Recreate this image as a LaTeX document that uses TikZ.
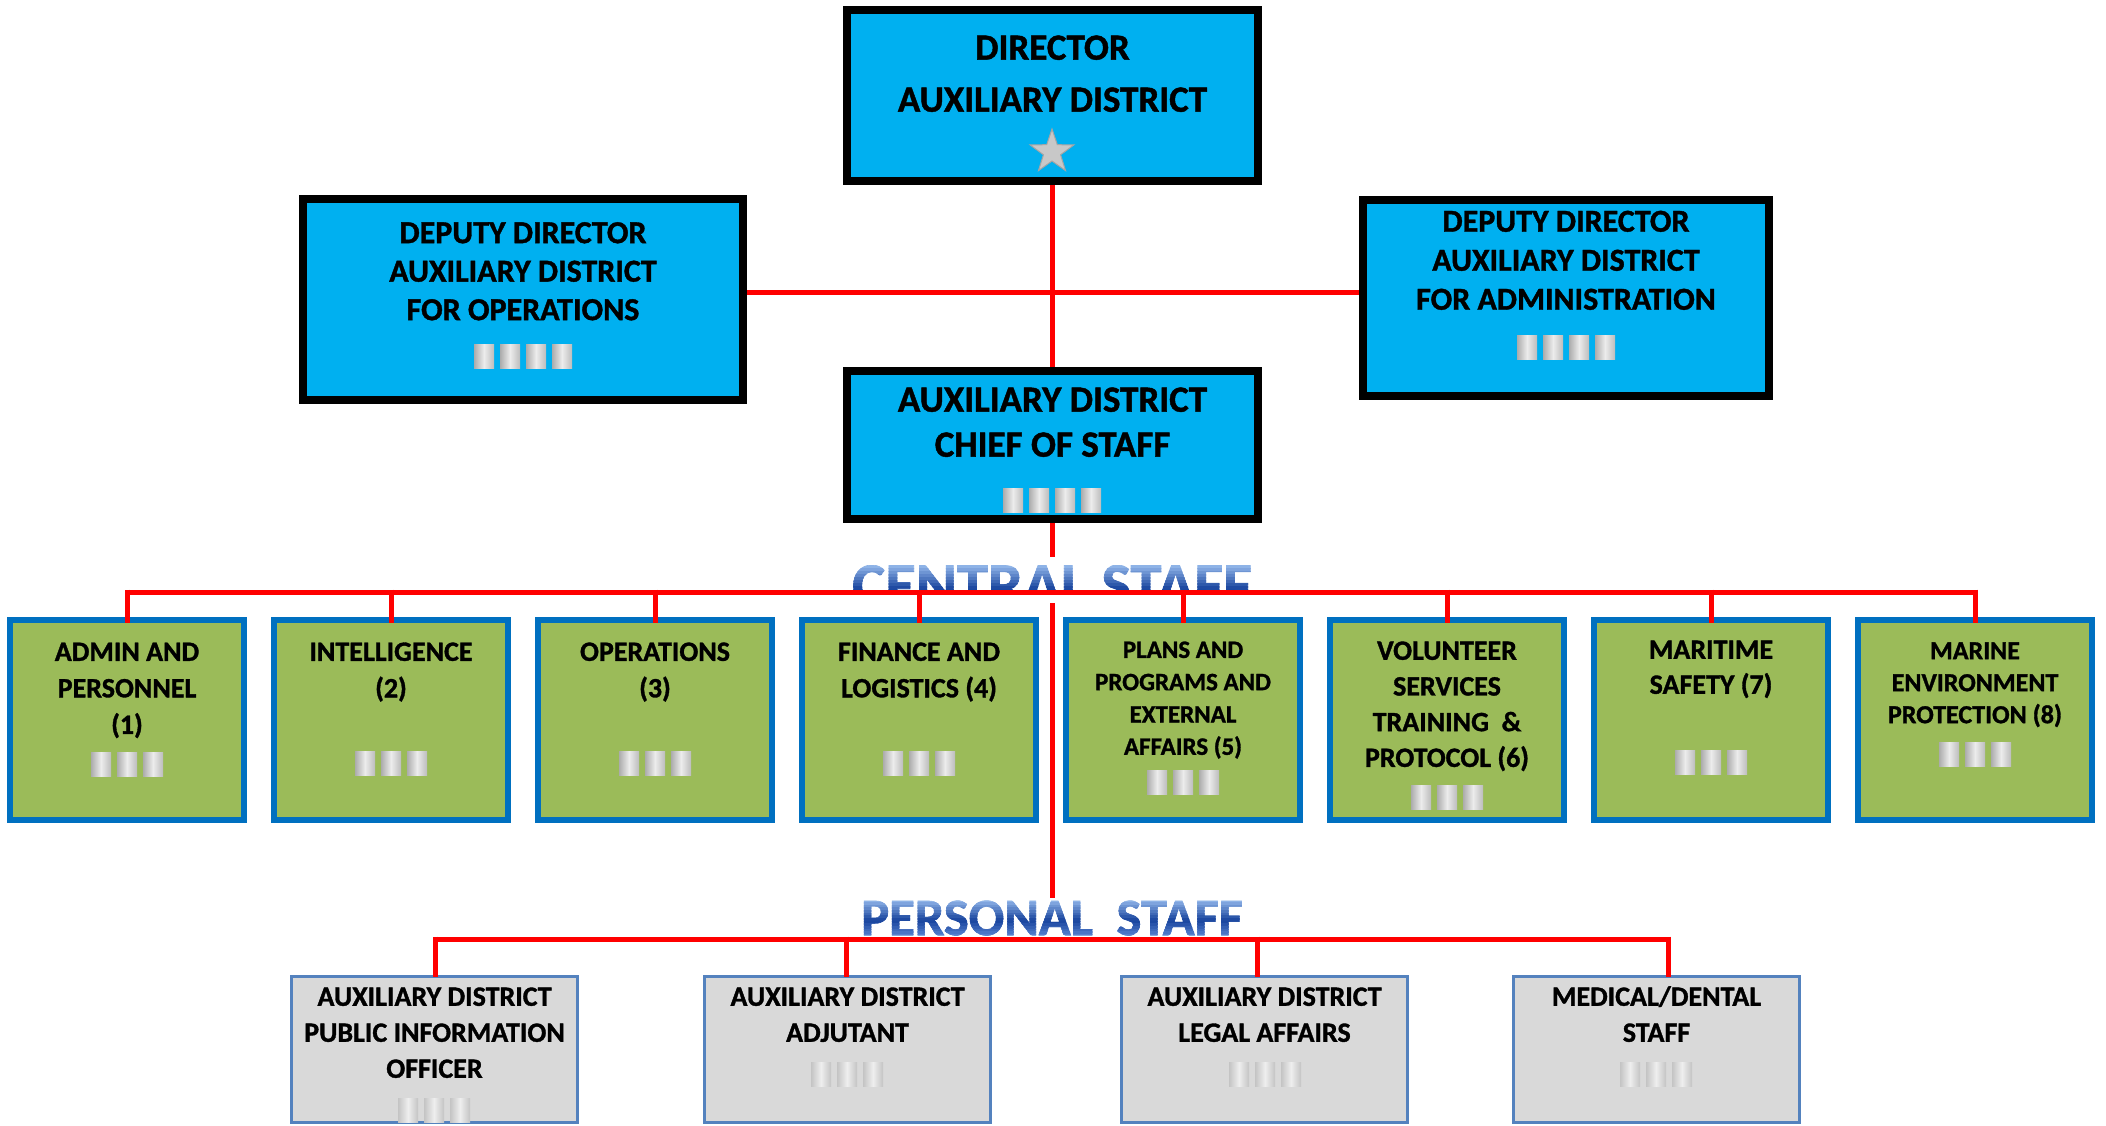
\documentclass[tikz,border=0pt]{standalone}
\usepackage{fontspec}
\setmainfont{Carlito}[BoldFeatures={FakeBold=1.2}]
\usetikzlibrary{shapes.geometric,backgrounds}

\definecolor{cmdcyan}{RGB}{0,176,240}
\definecolor{staffgreen}{RGB}{155,187,89}
\definecolor{staffedge}{RGB}{0,112,192}
\definecolor{persgray}{RGB}{217,217,217}
\definecolor{persedge}{RGB}{84,130,190}
\definecolor{linkred}{RGB}{255,0,0}
\definecolor{starfill}{RGB}{200,200,200}
\definecolor{staredge}{RGB}{165,165,165}
\definecolor{barside}{RGB}{172,172,172}
\definecolor{barside2}{RGB}{188,188,188}
\definecolor{barmid}{RGB}{236,236,236}
\definecolor{fbarside}{RGB}{196,196,196}
\definecolor{fbarmid}{RGB}{238,238,238}
\definecolor{labeltop}{RGB}{150,186,236}
\definecolor{labelmid}{RGB}{22,66,156}
\definecolor{labelbot}{RGB}{92,134,210}

% bold Carlito at a given size / line pitch
\newcommand{\boxfont}[2]{\fontsize{#1}{#2}\selectfont\bfseries}

% row of rank bars: count, centre x, centre y, shading style
\newcommand{\rankbars}[4]{%
  \foreach \barno in {1,...,#1}{%
    \shade[#4] ({#2+(\barno-(#1+1)/2)*26-10},{#3-12}) rectangle ++(20,24);
  }}

% gradient lettering built from horizontal colour bands:
% name, x, baseline y, size, glyph top, glyph bottom, text
\newcommand{\wordart}[7]{%
  \foreach \i in {0,...,13}{%
    \pgfmathsetmacro{\ya}{#5+\i*(#6-#5)/14}%
    \pgfmathsetmacro{\yb}{#5+(\i+1)*(#6-#5)/14+0.8}%
    \pgfmathtruncatemacro{\isupper}{\i<8}%
    \ifnum\isupper=1
      \pgfmathtruncatemacro{\pct}{100*(\i+0.5)/8}%
      \colorlet{bandcol}{labelmid!\pct!labeltop}%
    \else
      \pgfmathtruncatemacro{\pct}{100*(1-(\i-7.5)/6)}%
      \colorlet{bandcol}{labelmid!\pct!labelbot}%
    \fi
    \begin{scope}
      \clip (0,\ya) rectangle (2106,\yb);
      \node[wordart,text=bandcol,font=\boxfont{#4}{#4}] (#1-\i) at (#2,#3) {#7};
    \end{scope}
  }}

\begin{document}
\begin{tikzpicture}[x=1pt,y=-1pt,
  cmdbox/.style={draw=black,line width=8pt,fill=cmdcyan,inner sep=0pt,outer sep=0pt},
  staffbox/.style={draw=staffedge,line width=6pt,fill=staffgreen,minimum width=234pt,minimum height=200pt,inner sep=0pt,outer sep=0pt},
  persbox/.style={draw=persedge,line width=3pt,fill=persgray,minimum width=286pt,minimum height=146pt,inner sep=0pt,outer sep=0pt},
  boxtext/.style={anchor=north,align=center,inner sep=0pt,outer sep=0pt,text=black},
  wordart/.style={anchor=base,inner sep=0pt,outer sep=0pt},
  link/.style={draw=linkred,line width=5pt},
  stub/.style={link,shorten <=-2.5pt,shorten >=-3pt},
  pstub/.style={link,shorten <=-2.5pt},
  cmdbar/.style={left color=barside,right color=barside2,middle color=barmid},
  persbar/.style={left color=fbarside,right color=fbarside,middle color=fbarmid},
]
\useasboundingbox (0,0) rectangle (2106,1126);

% ---------- command boxes ----------
\node[cmdbox,minimum width=411pt,minimum height=171pt] (dir)  at (1052.5,95.5) {};
\node[cmdbox,minimum width=440pt,minimum height=201pt] (dops) at (523,299.5) {};
\node[cmdbox,minimum width=406pt,minimum height=196pt] (dadm) at (1566,298) {};
\node[cmdbox,minimum width=411pt,minimum height=148pt] (cos)  at (1052.5,445) {};

\node[boxtext,font=\boxfont{37}{52}] (dirtext) at (1052.5,23.3) {\strut DIRECTOR\\AUXILIARY DISTRICT};
\node[star,star points=5,star point ratio=2.55,minimum size=46pt,inner sep=0pt,
      fill=starfill,draw=staredge,line width=1pt] (dirstar) at (1052,152) {};

\node[boxtext,font=\boxfont{32}{38.5}] (dopstext) at (523,216.2)
  {\strut DEPUTY DIRECTOR\\AUXILIARY DISTRICT\\FOR OPERATIONS};
\rankbars{4}{523}{356}{cmdbar}

\node[boxtext,font=\boxfont{32}{39}] (dadmtext) at (1566,204.4)
  {\strut DEPUTY DIRECTOR\\AUXILIARY DISTRICT\\FOR ADMINISTRATION};
\rankbars{4}{1566}{347}{cmdbar}

\node[boxtext,font=\boxfont{37}{45}] (costext) at (1052.5,380.2)
  {\strut AUXILIARY DISTRICT\\CHIEF OF STAFF};
\rankbars{4}{1052}{500}{cmdbar}

% ---------- central staff ----------
\node[staffbox] (s1) at (127,720) {};
\node[staffbox] (s2) at (391,720) {};
\node[staffbox] (s3) at (655,720) {};
\node[staffbox] (s4) at (919,720) {};
\node[staffbox] (s5) at (1183,720) {};
\node[staffbox] (s6) at (1447,720) {};
\node[staffbox] (s7) at (1711,720) {};
\node[staffbox] (s8) at (1975,720) {};

\node[boxtext,font=\boxfont{28}{36.5}] (s1text) at (127,635.3) {\strut ADMIN AND\\PERSONNEL\\(1)};
\node[boxtext,font=\boxfont{28}{36.5}] (s2text) at (391,635.3) {\strut INTELLIGENCE\\(2)};
\node[boxtext,font=\boxfont{28}{36.5}] (s3text) at (655,635.3) {\strut OPERATIONS\\(3)};
\node[boxtext,font=\boxfont{28}{36.5}] (s4text) at (919,635.3) {\strut FINANCE AND\\LOGISTICS (4)};
\node[boxtext,font=\boxfont{25}{32.3}] (s5text) at (1183,635.3) {\strut PLANS AND\\PROGRAMS AND\\EXTERNAL\\AFFAIRS (5)};
\node[boxtext,font=\boxfont{28}{35.7}] (s6text) at (1447,634.8) {\strut VOLUNTEER\\SERVICES\\TRAINING\ \ \&\\PROTOCOL (6)};
\node[boxtext,font=\boxfont{28}{35}] (s7text) at (1711,634.3) {\strut MARITIME\\SAFETY (7)};
\node[boxtext,font=\boxfont{26}{32}] (s8text) at (1975,636.8) {\strut MARINE\\ENVIRONMENT\\PROTECTION (8)};

\rankbars{3}{127}{764}{cmdbar}
\rankbars{3}{391}{763}{cmdbar}
\rankbars{3}{655}{763}{cmdbar}
\rankbars{3}{919}{763}{cmdbar}
\rankbars{3}{1183}{782}{cmdbar}
\rankbars{3}{1447}{797}{cmdbar}
\rankbars{3}{1711}{762}{cmdbar}
\rankbars{3}{1975}{754}{cmdbar}

% ---------- personal staff ----------
\node[persbox] (g1) at (434.5,1049.5) {};
\node[persbox] (g2) at (847.5,1049.5) {};
\node[persbox] (g3) at (1264.5,1049.5) {};
\node[persbox] (g4) at (1656.5,1049.5) {};

\node[boxtext,font=\boxfont{28}{36}] (g1text) at (434.5,980.6) {\strut AUXILIARY DISTRICT\\PUBLIC INFORMATION\\OFFICER};
\node[boxtext,font=\boxfont{28}{36}] (g2text) at (847.5,980.6) {\strut AUXILIARY DISTRICT\\ADJUTANT};
\node[boxtext,font=\boxfont{28}{36}] (g3text) at (1264.5,980.6) {\strut AUXILIARY DISTRICT\\LEGAL AFFAIRS};
\node[boxtext,font=\boxfont{28}{36}] (g4text) at (1656.5,980.6) {\strut MEDICAL/DENTAL\\STAFF};

\rankbars{3}{434}{1110}{persbar}
\rankbars{3}{847}{1074.5}{persbar}
\rankbars{3}{1265}{1074}{persbar}
\rankbars{3}{1656}{1074}{persbar}

% ---------- connector levels ----------
\coordinate (ylineD) at (0,292);
\coordinate (ylineC) at (0,592);
\coordinate (ylineP) at (0,939);
\coordinate (pj) at (cos.south |- ylineP);
\coordinate (p1) at (435,939);
\coordinate (p2) at (846,939);
\coordinate (p3) at (1257,939);
\coordinate (p4) at (1668,939);

% trunk lines sit behind boxes and captions
\begin{scope}[on background layer]
  \fill[white] (0,0) rectangle (2106,1126);
  \draw[link] (dir.south) -- (cos.north);
  \draw[link] (dops.east |- ylineD) -- (dadm.west |- ylineD);
  \draw[link] (cos.south) -- (pj);
\end{scope}

% ---------- section captions ----------
\fill[white] (850,557) rectangle (1254,603);
\begin{scope}
  \clip (0,0) rectangle (2106,592);
  \wordart{central}{1052}{606}{62.5}{565}{608}{CENTRAL STAFF}
\end{scope}

\fill[white] (860,898) rectangle (1244,941);
\wordart{personal}{1052}{935}{52.5}{900}{937}{PERSONAL\ \ STAFF}

% ---------- staff connectors ----------
\draw[link] (s1.north |- ylineC) -- (s8.north |- ylineC);
\foreach \n in {1,...,8} \draw[stub] (s\n.north |- ylineC) -- (s\n.north);

\draw[link] (p1) -- (p4);
\foreach \n in {1,...,4} \draw[pstub] (p\n) -- (p\n |- g\n.north);

\end{tikzpicture}
\end{document}
